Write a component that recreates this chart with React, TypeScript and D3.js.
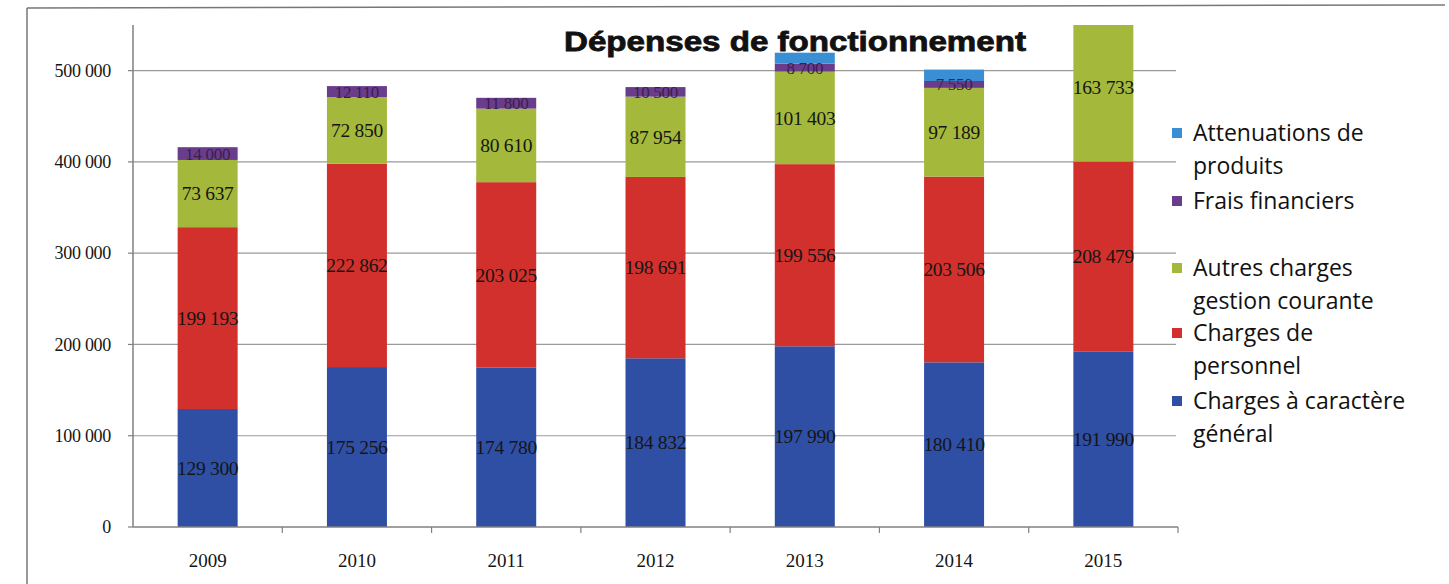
import React from "react";
import * as d3 from "d3";

const years = ["2009", "2010", "2011", "2012", "2013", "2014", "2015"];
const chargesGeneral = [129300, 175256, 174780, 184832, 197990, 180410, 191990];
const chargesPersonnel = [199193, 222862, 203025, 198691, 199556, 203506, 208479];
const autresCharges = [73637, 72850, 80610, 87954, 101403, 97189, 163733];
const fraisFinanciers = [14000, 12110, 11800, 10500, 8700, 7550, 0];
const attenuations = [0, 0, 0, 0, 12000, 12500, 0];
const yTicks = [0, 100000, 200000, 300000, 400000, 500000];

const seriesColors = ["#2f4fa5", "#d1302c", "#a4b93b", "#6a3d8c", "#3a8fd4"];
const seriesLabelled = [true, true, true, true, false];

const legendItems = [
  { lines: ["Attenuations de", "produits"], color: "#3a8fd4", y: 133 },
  { lines: ["Frais financiers"], color: "#6a3d8c", y: 201 },
  { lines: ["Autres charges", "gestion courante"], color: "#a4b93b", y: 268 },
  { lines: ["Charges de", "personnel"], color: "#d1302c", y: 333 },
  { lines: ["Charges à caractère", "général"], color: "#2f4fa5", y: 401 },
];

const fmt = (v: number) => d3.format(",")(v).replace(/,/g, " ");

export default function App() {
  const W = 1449;
  const H = 584;
  const x0 = 133;
  const x1 = 1178;
  const yBase = 527;
  const yTop = 25;

  const y = d3.scaleLinear().domain([0, 550000]).range([yBase, yTop]);

  const table = years.map((yr, i) => ({
    year: yr,
    s0: chargesGeneral[i],
    s1: chargesPersonnel[i],
    s2: autresCharges[i],
    s3: fraisFinanciers[i],
    s4: attenuations[i],
  }));
  const stack = d3.stack<any>().keys(["s0", "s1", "s2", "s3", "s4"]);
  const stacked = stack(table);

  const band = d3.scaleBand<string>().domain(years).range([x0, x1]);
  const bw = 60;
  const serif = "'Liberation Serif', 'Times New Roman', serif";
  const sans = "'Open Sans', 'Noto Sans', sans-serif";

  return (
    <svg width={W} height={H} style={{ position: "absolute", left: 0, top: 0, background: "#fff" }}>
      <defs>
        <clipPath id="plotclip">
          <rect x={x0} y={yTop} width={x1 - x0} height={yBase - yTop} />
        </clipPath>
      </defs>
      {/* outer frame */}
      <line x1={27} y1={8} x2={1445} y2={5} stroke="#777" strokeWidth={1.5} />
      <line x1={27} y1={8} x2={27} y2={584} stroke="#777" strokeWidth={1.5} />

      {/* gridlines */}
      {yTicks.slice(1).map((t) => (
        <line key={t} x1={x0} x2={1176} y1={y(t)} y2={y(t)} stroke="#9a9a9a" strokeWidth={1.2} />
      ))}

      {/* bars */}
      <g clipPath="url(#plotclip)">
        {stacked.map((layer, si) =>
          layer.map((d, i) => {
            const h = y(d[0]) - y(d[1]);
            if (h <= 0) return null;
            const cx = band(years[i])! + band.bandwidth() / 2;
            return (
              <rect
                key={si + "-" + i}
                x={cx - bw / 2}
                y={y(d[1])}
                width={bw}
                height={h}
                fill={seriesColors[si]}
              />
            );
          })
        )}
      </g>

      {/* labels */}
      {stacked.map((layer, si) =>
        seriesLabelled[si]
          ? layer.map((d, i) => {
              const v = d[1] - d[0];
              if (v <= 0) return null;
              const cx = band(years[i])! + band.bandwidth() / 2;
              const cy = (y(d[0]) + y(d[1])) / 2;
              return (
                <text
                  key={"l" + si + "-" + i}
                  x={cx}
                  y={cy}
                  dy="0.35em"
                  textAnchor="middle"
                  fontFamily={serif}
                  fontSize={si === 3 ? 17 : 19.5}
                  fill={si === 3 ? "#3a1f4e" : "#151515"}
                  letterSpacing={-0.3}
                >
                  {fmt(v)}
                </text>
              );
            })
          : null
      )}

      {/* y axis */}
      <line x1={x0} x2={x0} y1={yTop} y2={yBase} stroke="#808080" strokeWidth={1.5} />
      {yTicks.map((t) => (
        <g key={"yt" + t}>
          <line x1={x0 - 5} x2={x0} y1={y(t)} y2={y(t)} stroke="#808080" strokeWidth={1.2} />
          <text x={111} y={y(t)} dy="0.35em" textAnchor="end" fontFamily={serif} fontSize={18} fill="#151515" letterSpacing={-0.3}>
            {fmt(t)}
          </text>
        </g>
      ))}

      {/* x axis */}
      <line x1={x0} x2={x1} y1={yBase} y2={yBase} stroke="#808080" strokeWidth={1.5} />
      {years.map((yr) => (
        <line key={"xt" + yr} x1={band(yr)! + band.bandwidth()} x2={band(yr)! + band.bandwidth()} y1={yBase} y2={yBase + 6} stroke="#808080" strokeWidth={1.2} />
      ))}
      {years.map((yr) => (
        <text key={"xl" + yr} x={band(yr)! + band.bandwidth() / 2} y={567} textAnchor="middle" fontFamily={serif} fontSize={19} fill="#151515">
          {yr}
        </text>
      ))}

      {/* title */}
      <text x={795} y={51} textAnchor="middle" fontFamily="'Liberation Sans', Arial, sans-serif" fontWeight={900} fontSize={27} fill="#111" textLength={462} lengthAdjust="spacingAndGlyphs" stroke="#111" strokeWidth={0.8}>
        Dépenses de fonctionnement
      </text>

      {/* legend */}
      {legendItems.map((it) => (
        <g key={it.lines[0]}>
          <rect x={1172} y={it.y - 5} width={10} height={10} fill={it.color} />
          {it.lines.map((ln, k) => (
            <text key={ln} x={1193} y={it.y + k * 33} dy="0.35em" fontFamily={sans} fontSize={23} fill="#111">
              {ln}
            </text>
          ))}
        </g>
      ))}
    </svg>
  );
}
